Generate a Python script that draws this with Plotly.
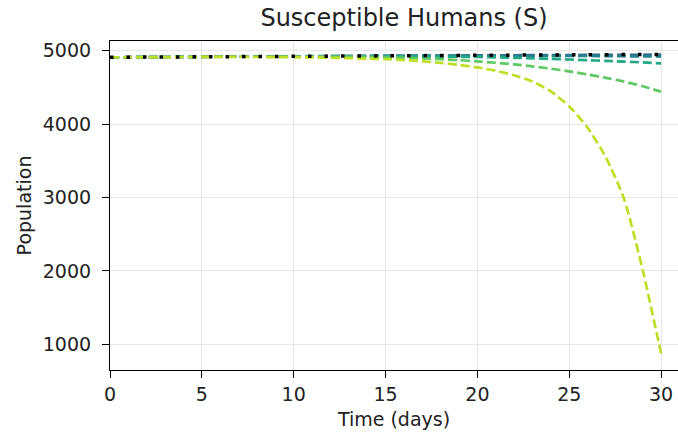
import plotly.graph_objects as go

days = list(range(31))

baseline = [4910, 4911, 4913, 4914, 4915, 4917, 4918, 4919, 4921, 4922, 4923, 4925, 4926, 4927, 4929, 4930,
            4931, 4933, 4934, 4935, 4937, 4938, 4939, 4941, 4942, 4943, 4945, 4946, 4947, 4949, 4950]
s1 = [4910, 4911, 4913, 4914, 4915, 4917, 4918, 4919, 4921, 4922, 4923, 4925, 4926, 4927, 4929, 4930,
      4931, 4932, 4933, 4934, 4936, 4937, 4938, 4939, 4940, 4941, 4942, 4943, 4944, 4945, 4946]
s2 = [4910, 4911, 4913, 4914, 4915, 4917, 4918, 4919, 4921, 4922, 4923, 4924, 4925, 4926, 4927, 4928,
      4929, 4930, 4930, 4931, 4931, 4931, 4931, 4931, 4930, 4929, 4928, 4926, 4924, 4922, 4920]
s3 = [4910, 4911, 4913, 4914, 4915, 4917, 4918, 4919, 4920, 4921, 4922, 4923, 4923, 4924, 4924, 4924,
      4923, 4922, 4920, 4917, 4914, 4909, 4903, 4896, 4888, 4880, 4871, 4861, 4851, 4840, 4828]
s4 = [4910, 4911, 4913, 4914, 4915, 4916, 4917, 4918, 4919, 4919, 4920, 4919, 4918, 4916, 4913, 4909,
      4903, 4895, 4884, 4871, 4855, 4836, 4813, 4786, 4755, 4718, 4676, 4630, 4578, 4515, 4440]
s5 = [4910, 4911, 4912, 4913, 4914, 4915, 4915, 4915, 4914, 4913, 4911, 4908, 4904, 4898, 4892, 4885,
      4872, 4855, 4834, 4806, 4772, 4727, 4665, 4580, 4445, 4240, 3950, 3545, 2970, 2010, 875]

series = [s1, s2, s3, s4, s5]
colors = ["#31688e", "#26828e", "#22a884", "#5ec962", "#bddf26"]

x_ticks = [0, 5, 10, 15, 20, 25, 30]
y_ticks = [1000, 2000, 3000, 4000, 5000]

fig = go.Figure()
for vals, c in zip(series, colors):
    fig.add_trace(go.Scatter(x=days, y=vals, mode="lines",
                             line=dict(color=c, width=2.7, dash="9px,4px", shape="spline", smoothing=0.6),
                             showlegend=False))
fig.add_trace(go.Scatter(x=days, y=baseline, mode="lines",
                         line=dict(color="black", width=3.5, dash="3.5px,13px"),
                         showlegend=False))

font = "DejaVu Sans, sans-serif"
fig.update_layout(
    width=678, height=438,
    margin=dict(l=110, r=0, t=41, b=68),
    paper_bgcolor="white", plot_bgcolor="white",
    font=dict(family=font, size=19, color="#222222"),
    title=dict(text="Susceptible Humans (S)", x=404 / 678, xanchor="center",
               y=1 - 18 / 438, yanchor="middle", font=dict(size=24, color="#222222")),
)
fig.update_xaxes(range=[0, 30.92], tickvals=x_ticks, showgrid=True, gridcolor="#e6e6e6", gridwidth=1,
                 showline=True, linecolor="black", linewidth=1.2, mirror=True,
                 ticks="outside", ticklen=7, tickcolor="black", zeroline=False,
                 tickfont=dict(size=19), ticklabelstandoff=0,
                 title=dict(text="Time (days)", standoff=8, font=dict(size=19)))
fig.update_yaxes(range=[650, 5132], tickvals=y_ticks, showgrid=True, gridcolor="#e6e6e6", gridwidth=1,
                 showline=True, linecolor="black", linewidth=1.2,
                 ticks="outside", ticklen=7, tickcolor="black", zeroline=False,
                 tickfont=dict(size=19), ticklabelstandoff=7,
                 title=dict(text="Population", standoff=6, font=dict(size=19)))

fig.write_html("out.html")
